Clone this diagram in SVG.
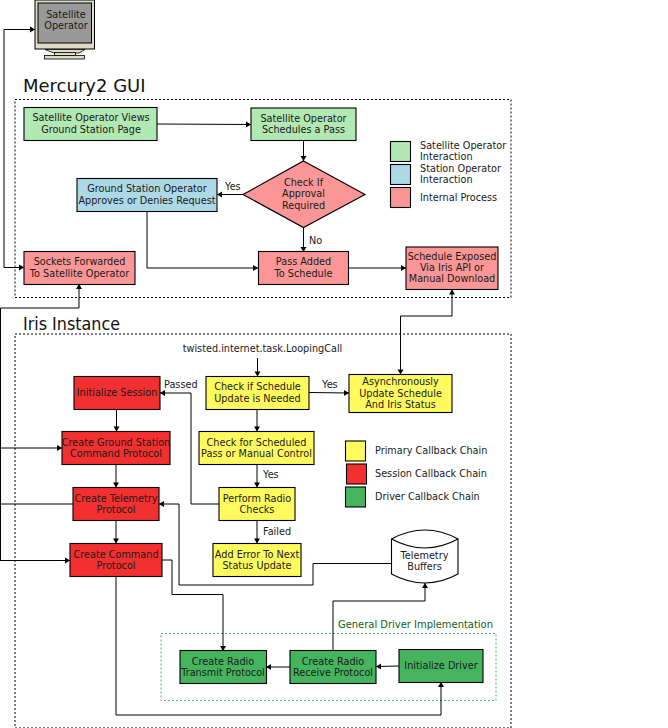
<svg xmlns="http://www.w3.org/2000/svg" width="668" height="728" viewBox="0 0 668 728">
<style>
text{font-family:"DejaVu Sans",sans-serif;font-size:9.7px;fill:#1a1a1a;text-anchor:middle}
.l{text-anchor:start}
.t{font-size:18px;text-anchor:start;fill:#111}
.n{stroke:#000;stroke-width:1.1}
.g{fill:#b2e8b2}.b{fill:#add8e6}.p{fill:#fa9696}.y{fill:#fffb5f}.r{fill:#f33030}.d{fill:#46b45f}
.c{fill:none;stroke:#000;stroke-width:1;marker-end:url(#a)}
.c0{fill:none;stroke:#000;stroke-width:1}
.f{fill:none;stroke:#000;stroke-width:1;stroke-dasharray:2 2}
</style>
<defs>
<marker id="a" markerUnits="userSpaceOnUse" markerWidth="7" markerHeight="7" refX="6" refY="3.5" orient="auto"><path d="M1 0.5L6 3.5L1 6.5Z" fill="#000"/></marker>
<marker id="s" markerUnits="userSpaceOnUse" markerWidth="7" markerHeight="7" refX="6" refY="3.5" orient="auto-start-reverse"><path d="M1 0.5L6 3.5L1 6.5Z" fill="#000"/></marker>
</defs>
<rect width="668" height="728" fill="#fff"/>
<g id="containers">
<rect class="f" x="15" y="99.5" width="496" height="198"/>
<rect class="f" x="15" y="334" width="496" height="394"/>
<rect x="161" y="633.5" width="335" height="67" fill="none" stroke="#46b45f" stroke-width="1" stroke-dasharray="2 2"/>
<text class="t" x="23" y="92">Mercury2 GUI</text>
<text class="t" x="23" y="329.500" textLength="97" lengthAdjust="spacingAndGlyphs">Iris Instance</text>
<text class="l" x="338" y="628" style="fill:#0c5f1e;font-size:9.95px">General Driver Implementation</text>
</g>
<g id="connectors">
<path class="c" d="M4 267.5V29.5H35"/>
<path class="c" d="M4 267.5H24"/>
<path class="c" d="M157 124L251 124.5"/>
<path class="c" d="M303.5 140V161"/>
<path class="c" d="M243 194.500H217"/>
<path class="c" d="M303.500 227.500V252"/>
<path class="c" d="M147 211V268H258"/>
<path class="c" d="M348.500 268H406"/>
<path class="c" d="M0.500 308H79V284"/>
<path class="c0" d="M0.500 308V561"/>
<path class="c" d="M0 448H62"/>
<path class="c0" d="M0 504H73"/>
<path class="c" d="M0 560.500H70"/>
<path d="M452 289.500V316H400.500V374.500" fill="none" stroke="#000" marker-start="url(#s)" marker-end="url(#a)"/>
<path class="c" d="M257.500 358V376.500"/>
<path class="c" d="M309 392.500L349 393"/>
<path class="c" d="M257 409V431.500"/>
<path class="c" d="M257 464V487.500"/>
<path class="c" d="M257 520V543.500"/>
<path class="c" d="M219 504H191V393H160"/>
<path class="c" d="M116.500 409V431.500"/>
<path class="c" d="M116 464V487.500"/>
<path class="c" d="M116 520V543.500"/>
<path class="c" d="M391.500 563.500H313V585H179V504H159"/>
<path class="c" d="M162 560H172V594.500H223V651"/>
<path class="c" d="M116 576V715H441V682"/>
<path class="c" d="M333 651V601H425V583"/>
<path class="c" d="M399 666L376 666.500"/>
<path class="c" d="M290 667H266"/>
</g>
<g id="labels">
<text class="l" x="225" y="190">Yes</text>
<text class="l" x="309" y="244">No</text>
<text class="l" x="164" y="388">Passed</text>
<text class="l" x="322" y="388">Yes</text>
<text class="l" x="263" y="478">Yes</text>
<text class="l" x="263" y="535">Failed</text>
<text x="262.500" y="352">twisted.internet.task.LoopingCall</text>
</g>
<g id="operator">
<rect x="35" y="0" width="59.500" height="49" fill="#dcdcc8" stroke="#000"/>
<rect x="38" y="3" width="53.500" height="40" fill="#999" stroke="#000"/>
<path d="M45 49.500L54 53H79L85 49.500Z" fill="#dcdcc8" stroke="#000" stroke-width=".8"/>
<rect x="54.500" y="52.500" width="21" height="3" fill="#dcdcc8" stroke="#000" stroke-width=".8"/>
<rect x="44.500" y="55.500" width="40" height="3.500" fill="#dcdcc8" stroke="#000" stroke-width=".8"/>
<text x="66" y="18">Satellite</text><text x="66" y="29">Operator</text>
</g>
<g id="views"><rect class="n g" x="24" y="107.500" width="133" height="33"/><text x="91" y="121">Satellite Operator Views</text><text x="91" y="133">Ground Station Page</text></g>
<g id="schedules"><rect class="n g" x="251" y="108" width="105" height="32.500"/><text x="303.500" y="122">Satellite Operator</text><text x="303.500" y="133">Schedules a Pass</text></g>
<g id="check-approval"><path class="n p" d="M303.500 161L365 194.500L303.500 227.500L243 194.500Z"/><text x="303.500" y="186">Check If</text><text x="303.500" y="197">Approval</text><text x="303.500" y="209">Required</text></g>
<g id="gs-operator"><rect class="n b" x="77" y="178.500" width="140" height="33"/><text x="147" y="192">Ground Station Operator</text><text x="147" y="204">Approves or Denies Request</text></g>
<g id="sockets"><rect class="n p" x="24" y="251.500" width="111" height="33"/><text x="79.500" y="265">Sockets Forwarded</text><text x="79.500" y="277">To Satellite Operator</text></g>
<g id="pass-added"><rect class="n p" x="258.500" y="251.500" width="90" height="33"/><text x="303.500" y="265">Pass Added</text><text x="303.500" y="277">To Schedule</text></g>
<g id="exposed"><rect class="n p" x="406" y="247" width="92" height="42.500"/><text x="452" y="260">Schedule Exposed</text><text x="452" y="271">Via Iris API or</text><text x="452" y="282">Manual Download</text></g>
<g id="legend-gui">
<rect class="n g" x="390.500" y="141.500" width="20" height="20"/><rect class="n b" x="390.500" y="164.500" width="20" height="20"/><rect class="n p" x="390.500" y="187.500" width="20" height="20"/>
<text class="l" x="420" y="149">Satellite Operator</text><text class="l" x="420" y="160">Interaction</text><text class="l" x="420" y="172">Station Operator</text><text class="l" x="420" y="183">Interaction</text><text class="l" x="420" y="201">Internal Process</text>
</g>
<g id="init-session"><rect class="n r" x="74" y="376.500" width="86" height="33"/><text x="117" y="396">Initialize Session</text></g>
<g id="check-update"><rect class="n y" x="206" y="376.500" width="103" height="33"/><text x="257.500" y="390">Check if Schedule</text><text x="257.500" y="402">Update is Needed</text></g>
<g id="async"><rect class="n y" x="349" y="374.500" width="103" height="38"/><text x="400.500" y="385">Asynchronously</text><text x="400.500" y="397">Update Schedule</text><text x="400.500" y="408">And Iris Status</text></g>
<g id="gs-protocol"><rect class="n r" x="62" y="431.500" width="108" height="33"/><text x="116" y="446">Create Ground Station</text><text x="116" y="457">Command Protocol</text></g>
<g id="check-manual"><rect class="n y" x="199" y="431.500" width="115" height="33"/><text x="256.500" y="446">Check for Scheduled</text><text x="256.500" y="457">Pass or Manual Control</text></g>
<g id="telemetry-protocol"><rect class="n r" x="73" y="487.500" width="86" height="33"/><text x="116" y="502">Create Telemetry</text><text x="116" y="513">Protocol</text></g>
<g id="radio-checks"><rect class="n y" x="219" y="487.500" width="76" height="33"/><text x="257" y="502">Perform Radio</text><text x="257" y="513">Checks</text></g>
<g id="command-protocol"><rect class="n r" x="70" y="543.500" width="92" height="33"/><text x="116" y="558">Create Command</text><text x="116" y="569">Protocol</text></g>
<g id="add-error"><rect class="n y" x="213" y="543.500" width="88" height="33"/><text x="257" y="558">Add Error To Next</text><text x="257" y="569">Status Update</text></g>
<g id="legend-iris">
<rect class="n y" x="345.500" y="441" width="20" height="20"/><rect class="n r" x="346.500" y="464" width="20" height="20"/><rect class="n d" x="345.500" y="487" width="20" height="20"/>
<text class="l" x="375" y="454">Primary Callback Chain</text><text class="l" x="375" y="477">Session Callback Chain</text><text class="l" x="375" y="500">Driver Callback Chain</text>
</g>
<g id="telemetry-buffers"><path d="M391.500 539Q425 521 458 539V574Q425 592 391.500 574Z" fill="#fff" stroke="#000" stroke-width="1.100"/><path d="M391.500 539Q425 557 458 539" fill="none" stroke="#000" stroke-width="1.100"/><text x="424.500" y="559">Telemetry</text><text x="424.500" y="570">Buffers</text></g>
<g id="transmit"><rect class="n d" x="180" y="650.500" width="86.500" height="33"/><text x="223" y="665">Create Radio</text><text x="223" y="676">Transmit Protocol</text></g>
<g id="receive"><rect class="n d" x="290" y="650.500" width="86" height="33"/><text x="333" y="665">Create Radio</text><text x="333" y="676">Receive Protocol</text></g>
<g id="init-driver"><rect class="n d" x="399" y="649.500" width="84" height="33"/><text x="441" y="669">Initialize Driver</text></g>
</svg>
